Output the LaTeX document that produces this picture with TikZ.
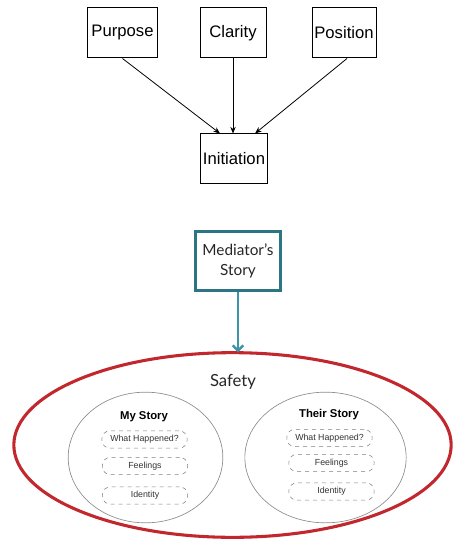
\documentclass[tikz,border=0pt]{standalone}
\usepackage{fontspec}
\setmainfont{Liberation Sans}
\newfontfamily\storyfont{Lato}
\usetikzlibrary{arrows.meta, positioning, shapes.geometric}
\definecolor{medteal}{HTML}{2B7584}
\definecolor{arrteal}{HTML}{3A95A8}
\definecolor{safered}{HTML}{C1272D}
\definecolor{ringgray}{HTML}{8C8C8C}

\begin{document}
\begin{tikzpicture}[x=0.75pt, y=-0.75pt,
    topbox/.style={draw, line width=0.75pt, minimum height=37.5pt,
                   inner sep=1.5pt, font=\fontsize{12.5}{14}\selectfont},
    arr/.style={-{Stealth[length=5pt, width=4pt]}, line width=0.6pt},
    tealarr/.style={-{Straight Barb[length=4pt, width=8pt]}, line width=1.9pt, arrteal},
    ring/.style={draw=ringgray, line width=0.5pt, ellipse, inner sep=0pt},
    item/.style={draw=gray, dashed, line width=0.4pt, rounded corners=6pt,
                 minimum width=64pt, minimum height=13pt, inner sep=0pt,
                 font=\fontsize{6.6}{8}\selectfont, text=black!80}
  ]
    \useasboundingbox (0,0) rectangle (453,541);

    % Inputs
    \node[topbox, minimum width=52pt] (purpose) at (122.5, 33) {Purpose};
    \node[topbox, minimum width=49.5pt] (clarity) at (233, 33) {Clarity};
    \node[topbox, minimum width=48pt] (position) at (344, 33) {Position};
    \node[topbox, minimum width=49.5pt] (init) at (234, 159) {Initiation};

    \draw[arr] (purpose.south) -- ([xshift=-10.5pt]init.north);
    \draw[arr] (clarity) -- (clarity |- init.north);
    \draw[arr] ([xshift=2.25pt]position.south) -- ([xshift=15.75pt]init.north);

    % Mediator
    \node[draw=medteal, line width=2.2pt, minimum width=64pt, minimum height=44.5pt,
          align=center, font=\storyfont\fontsize{11.5}{15}\selectfont, text=black!85]
      (med) at (238, 261) {Mediator’s\\Story};

    % Safety
    \node[ellipse, draw=safered, line width=2.3pt, minimum width=328pt,
          minimum height=138.5pt, inner sep=0pt] (safety) at (232.5, 445) {};
    \node[font=\storyfont\fontsize{12.5}{15}\selectfont, text=black!85]
      (safetylbl) at (233, 382) {Safety};
    \draw[tealarr] (med) -- ([yshift=-1pt]med |- safety.north);

    % Two stories
    \node[ring, minimum width=116pt, minimum height=98pt] (mine) at (145.5, 457.5) {};
    \node[ring, minimum width=121pt, minimum height=98pt] (theirs) at (325.5, 457.5) {};
    \node[font=\bfseries\fontsize{8.5}{10}\selectfont] (minelbl) at (144, 417) {My Story};
    \node[font=\bfseries\fontsize{8.5}{10}\selectfont] (theirslbl) at (329, 415) {Their Story};

    \node[item] (mwhat) at (144.5, 439.5) {What Happened?};
    \node[item] (mfeel) at (145, 466) {Feelings};
    \node[item] (mid) at (145, 495.5) {Identity};
    \node[item] (twhat) at (329.5, 438) {What Happened?};
    \node[item] (tfeel) at (331.5, 463) {Feelings};
    \node[item] (tid) at (331.5, 491.5) {Identity};
  \end{tikzpicture}
\end{document}
